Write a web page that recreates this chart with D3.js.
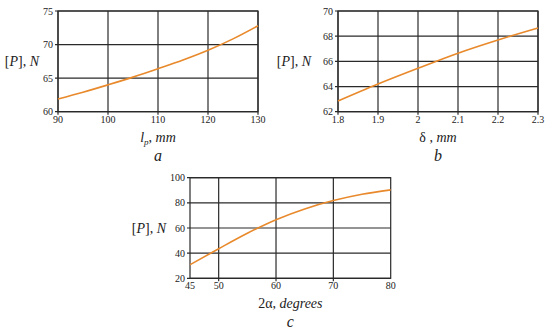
<!DOCTYPE html>
<html>
<head>
<meta charset="utf-8">
<script src="https://cdn.jsdelivr.net/npm/d3@7"></script>
<style>
  body { margin: 0; background: #fff; }
</style>
</head>
<body>
<script>
const width = 550;
const height = 334;

// panel a: [P] vs l_p
const lpValues = [90, 95, 100, 105, 110, 115, 120, 125, 130];
const forceA = [61.9, 62.9, 64.0, 65.15, 66.4, 67.7, 69.15, 70.85, 72.8];
const xTicksA = [90, 100, 110, 120, 130];
const yTicksA = [60, 65, 70, 75];

// panel b: [P] vs delta
const deltaValues = [1.8, 1.9, 2.0, 2.1, 2.2, 2.3];
const forceB = [62.85, 64.2, 65.45, 66.65, 67.7, 68.65];
const xTicksB = [1.8, 1.9, 2.0, 2.1, 2.2, 2.3];
const yTicksB = [62, 64, 66, 68, 70];

// panel c: [P] vs 2alpha
const alphaValues = [45, 50, 55, 60, 65, 70, 75, 80];
const forceC = [30.8, 43.5, 55.8, 66.6, 75.2, 81.8, 86.8, 90.3];
const xTicksC = [45, 50, 60, 70, 80];
const xGridC = [50, 60, 70];
const yTicksC = [20, 40, 60, 80, 100];

const serif = '"Liberation Serif"';

const svg = d3.select('body').append('svg')
    .attr('width', width)
    .attr('height', height);

function txt(sel) {
    return sel.append('text').style('font-family', serif).attr('fill', '#222');
}

function panel(opts) {
    const x = d3.scaleLinear().domain(opts.xDomain).range([opts.left, opts.left + opts.w]);
    const y = d3.scaleLinear().domain(opts.yDomain).range([opts.top + opts.h, opts.top]);
    const g = svg.append('g');
    const grid = '#2a2a2a';

    // grid + small outside ticks
    g.selectAll('.vgrid').data(opts.xGrid).enter().append('line')
        .attr('x1', d => x(d)).attr('x2', d => x(d))
        .attr('y1', opts.top).attr('y2', opts.top + opts.h + 3)
        .attr('stroke', grid).attr('stroke-width', 1.2);
    g.selectAll('.hgrid').data(opts.yTicks).enter().append('line')
        .attr('x1', opts.left - 3).attr('x2', opts.left + opts.w)
        .attr('y1', d => y(d)).attr('y2', d => y(d))
        .attr('stroke', grid).attr('stroke-width', 1.2);
    g.append('rect')
        .attr('x', opts.left).attr('y', opts.top)
        .attr('width', opts.w).attr('height', opts.h)
        .attr('fill', 'none').attr('stroke', grid).attr('stroke-width', 1.2);

    // tick labels
    opts.yTicks.forEach(d => {
        txt(g).attr('x', opts.left - 5).attr('y', y(d) + 3.5)
            .attr('text-anchor', 'end').style('font-size', '10px')
            .text(d);
    });
    opts.xTicks.forEach(d => {
        txt(g).attr('x', x(d)).attr('y', opts.top + opts.h + 11)
            .attr('text-anchor', 'middle').style('font-size', '10px')
            .text(opts.xFormat ? opts.xFormat(d) : d);
    });

    // curve
    const line = d3.line().x(d => x(d[0])).y(d => y(d[1])).curve(d3.curveMonotoneX);
    g.append('path')
        .datum(opts.xs.map((v, i) => [v, opts.ys[i]]))
        .attr('d', line)
        .attr('fill', 'none').attr('stroke', '#e8892b').attr('stroke-width', 1.6);

    // axis titles
    const yt = txt(g)
        .attr('x', opts.yLabelX).attr('y', opts.top + opts.h / 2 + 5)
        .attr('text-anchor', 'end').style('font-size', '14px');
    yt.append('tspan').text('[');
    yt.append('tspan').style('font-style', 'italic').text('P');
    yt.append('tspan').text('], ');
    yt.append('tspan').style('font-style', 'italic').text('N');

    const xt = txt(g)
        .attr('x', opts.left + opts.w / 2).attr('y', opts.top + opts.h + 30)
        .attr('text-anchor', 'middle').style('font-size', '14px');
    opts.xLabel(xt);

    txt(g)
        .attr('x', opts.left + opts.w / 2).attr('y', opts.top + opts.h + 49)
        .attr('text-anchor', 'middle').style('font-size', '16px').style('font-style', 'italic')
        .text(opts.letter);
}

panel({
    left: 58, top: 11, w: 200, h: 100.7,
    xDomain: [90, 130], yDomain: [60, 75],
    xGrid: xTicksA, xTicks: xTicksA, yTicks: yTicksA,
    xs: lpValues, ys: forceA, yLabelX: 39, letter: 'a',
    xLabel: t => {
        t.append('tspan').style('font-style', 'italic').text('l');
        t.append('tspan').style('font-style', 'italic').style('font-size', '9px').attr('dy', 3).text('p');
        t.append('tspan').attr('dy', -3).text(', ');
        t.append('tspan').style('font-style', 'italic').text('mm');
    }
});

panel({
    left: 338, top: 11, w: 200, h: 100.7,
    xDomain: [1.8, 2.3], yDomain: [62, 70],
    xGrid: xTicksB, xTicks: xTicksB, yTicks: yTicksB,
    xFormat: d => d === 2 ? '2' : d3.format('.1f')(d),
    xs: deltaValues, ys: forceB, yLabelX: 311, letter: 'b',
    xLabel: t => {
        t.append('tspan').text('\u03b4 , ');
        t.append('tspan').style('font-style', 'italic').text('mm');
    }
});

panel({
    left: 190, top: 177.7, w: 200.7, h: 100.6,
    xDomain: [45, 80], yDomain: [20, 100],
    xGrid: xGridC, xTicks: xTicksC, yTicks: yTicksC,
    xs: alphaValues, ys: forceC, yLabelX: 166, letter: 'c',
    xLabel: t => {
        t.append('tspan').text('2\u03b1, ');
        t.append('tspan').style('font-style', 'italic').text('degrees');
    }
});
</script>
</body>
</html>
